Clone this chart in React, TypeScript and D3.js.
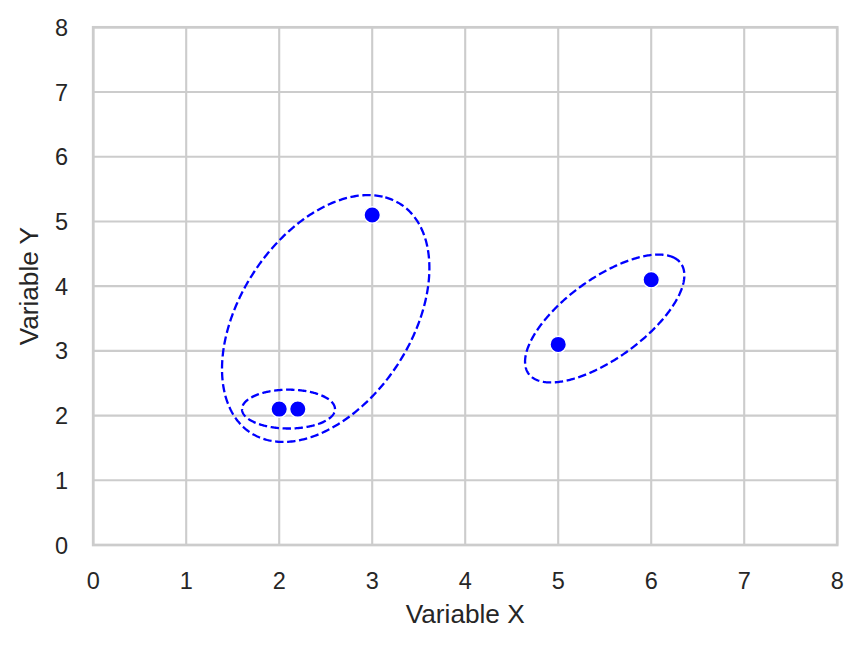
import React from "react";
import * as d3 from "d3";

const pointX = [2, 2.2, 3, 5, 6];
const pointY = [2.1, 2.1, 5.1, 3.1, 4.1];

const ellipseCx = [2.5, 2.1, 5.5];
const ellipseCy = [3.5, 2.1, 3.5];
const ellipseWidth = [3.96, 1.0, 2.4];
const ellipseHeight = [1.96, 0.6, 1.04];
const ellipseAngle = [72, 0, 51];

const xTicks = [0, 1, 2, 3, 4, 5, 6, 7, 8];
const yTicks = [0, 1, 2, 3, 4, 5, 6, 7, 8];
const xLabel = "Variable X";
const yLabel = "Variable Y";

const W = 862;
const H = 647;
const left = 93.2;
const right = 837.2;
const top = 27.3;
const bottom = 545;

export default function App() {
  const x = d3.scaleLinear().domain([0, 8]).range([left, right]);
  const y = d3.scaleLinear().domain([0, 8]).range([bottom, top]);
  const font = "'Liberation Sans', Arial, Helvetica, sans-serif";
  const textColor = "#262626";
  const grid = "#cccccc";

  const line = d3
    .line<[number, number]>()
    .x((d) => x(d[0]))
    .y((d) => y(d[1]))
    .curve(d3.curveLinearClosed);

  const ellipses = ellipseCx.map((cx, i) => {
    const a = ellipseWidth[i] / 2;
    const b = ellipseHeight[i] / 2;
    const t = (ellipseAngle[i] * Math.PI) / 180;
    const pts: [number, number][] = d3.range(0, 360, 1).map((deg) => {
      const p = (deg * Math.PI) / 180;
      const ex = a * Math.cos(p);
      const ey = b * Math.sin(p);
      return [
        cx + ex * Math.cos(t) - ey * Math.sin(t),
        ellipseCy[i] + ex * Math.sin(t) + ey * Math.cos(t),
      ];
    });
    return line(pts) as string;
  });

  return (
    <svg
      width={W}
      height={H}
      style={{ position: "absolute", left: 0, top: 0, display: "block", background: "#fff" }}
    >
      <rect x={0} y={0} width={W} height={H} fill="#fff" />
      {xTicks.map((t) => (
        <line key={"gx" + t} x1={x(t)} x2={x(t)} y1={top} y2={bottom} stroke={grid} strokeWidth={2.1} />
      ))}
      {yTicks.map((t) => (
        <line key={"gy" + t} x1={left} x2={right} y1={y(t)} y2={y(t)} stroke={grid} strokeWidth={2.1} />
      ))}
      <rect
        x={left}
        y={top}
        width={right - left}
        height={bottom - top}
        fill="none"
        stroke={grid}
        strokeWidth={2.7}
        strokeLinecap="square"
      />
      {ellipses.map((d, i) => (
        <path key={"e" + i} d={d} fill="none" stroke="#0000ff" strokeWidth={2.3} strokeDasharray="8.4 3.6" />
      ))}
      {pointX.map((px, i) => (
        <circle key={"p" + i} cx={x(px)} cy={y(pointY[i])} r={8.2} fill="#0000ff" stroke="#ffffff" strokeWidth={1.4} />
      ))}
      {xTicks.map((t) => (
        <text key={"tx" + t} x={x(t)} y={589} textAnchor="middle" fontFamily={font} fontSize={23.5} fill={textColor}>
          {t}
        </text>
      ))}
      {yTicks.map((t) => (
        <text key={"ty" + t} x={68} y={y(t) + 8.5} textAnchor="end" fontFamily={font} fontSize={23.5} fill={textColor}>
          {t}
        </text>
      ))}
      <text x={(left + right) / 2} y={623} textAnchor="middle" fontFamily={font} fontSize={26.2} fill={textColor}>
        {xLabel}
      </text>
      <text
        transform={`translate(37.5, ${(top + bottom) / 2}) rotate(-90)`}
        textAnchor="middle"
        fontFamily={font}
        fontSize={26.2}
        fill={textColor}
      >
        {yLabel}
      </text>
    </svg>
  );
}
